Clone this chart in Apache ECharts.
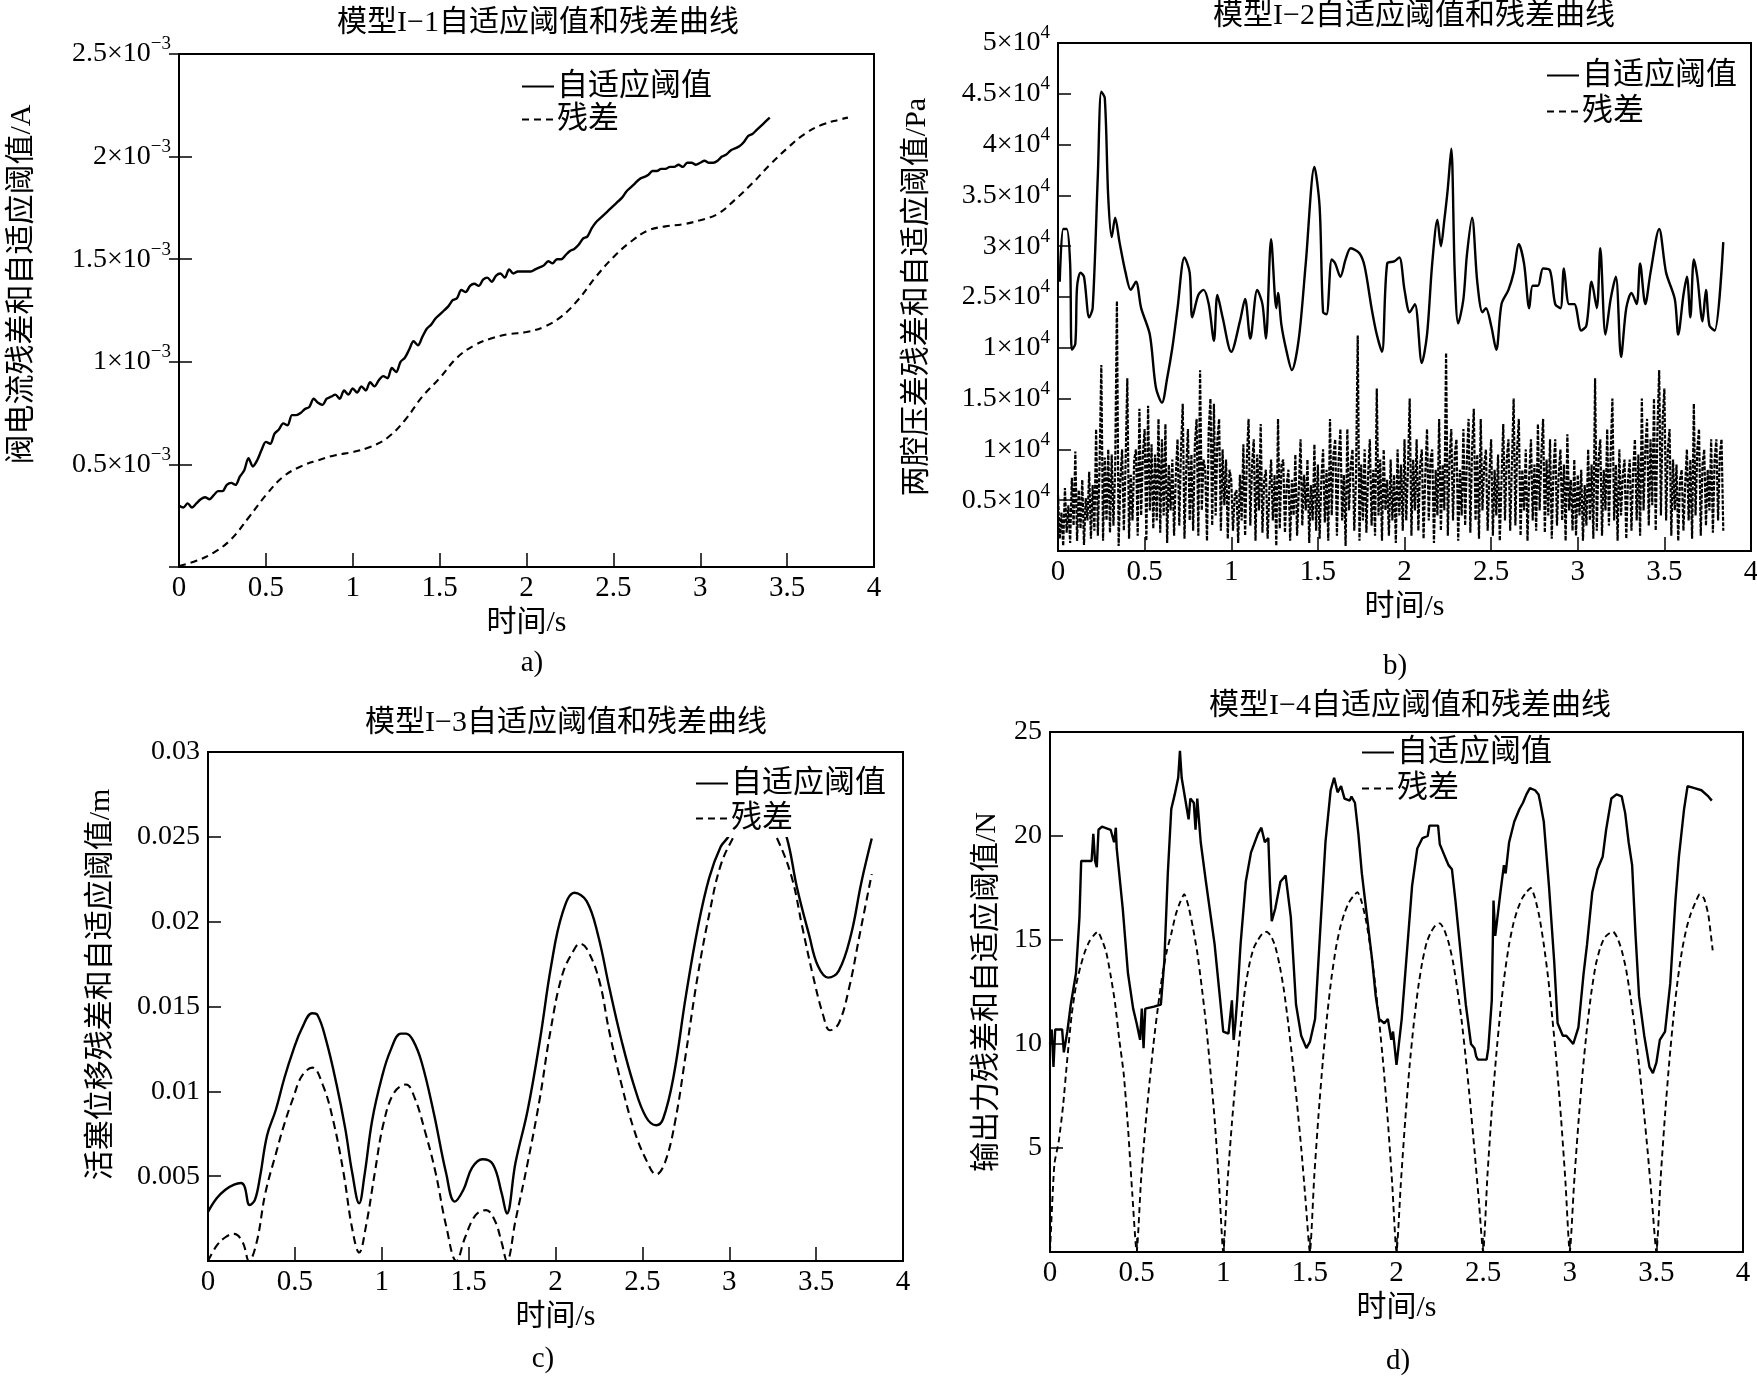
<!DOCTYPE html>
<html><head><meta charset="utf-8">
<script src="https://cdn.jsdelivr.net/npm/echarts@6/dist/echarts.min.js"></script>
<style>html,body{margin:0;padding:0;background:#fff}#c{width:1757px;height:1376px}</style>
</head><body><div id="c"></div>
<script>
// ---------- shared tick labels ----------
const xTickLabels = ['0','0.5','1','1.5','2','2.5','3','3.5','4'];
const aYMantissa = ['', '0.5', '1', '1.5', '2', '2.5'];
const aYExp = '−3';
const bYMantissa = ['', '0.5', '1', '1.5', '1', '2.5', '3', '3.5', '4', '4.5', '5'];
const bYExp = '4';
const cYTickLabels = ['', '0.005', '0.01', '0.015', '0.02', '0.025', '0.03'];
const dYTickLabels = ['', '5', '10', '15', '20', '25'];

const titles = ['模型I−1自适应阈值和残差曲线','模型I−2自适应阈值和残差曲线','模型I−3自适应阈值和残差曲线','模型I−4自适应阈值和残差曲线'];
const yNames = ['阀电流残差和自适应阈值/A','两腔压差残差和自适应阈值/Pa','活塞位移残差和自适应阈值/m','输出力残差和自适应阈值/N'];
const xName = '时间/s';
const captions = ['a)','b)','c)','d)'];
const seriesNames = ['自适应阈值','残差'];

// ---------- panel a (values in 1e-3 A) ----------
const aThresholdStep = 0.025;
const aThreshold = [0.30,0.29,0.31,0.29,0.31,0.33,0.34,0.33,0.35,0.37,0.37,0.40,0.41,0.40,0.44,0.47,0.53,0.49,0.52,0.57,
0.61,0.60,0.65,0.67,0.70,0.69,0.74,0.74,0.75,0.77,0.78,0.82,0.80,0.79,0.82,0.83,0.84,0.82,0.86,0.84,
0.87,0.85,0.88,0.86,0.90,0.88,0.91,0.93,0.92,0.97,0.95,1.00,1.02,1.06,1.10,1.08,1.12,1.16,1.18,1.21,
1.23,1.25,1.27,1.30,1.31,1.35,1.34,1.37,1.38,1.37,1.40,1.41,1.39,1.42,1.43,1.41,1.45,1.43,1.44,1.44,
1.44,1.44,1.45,1.46,1.47,1.49,1.48,1.50,1.50,1.52,1.54,1.55,1.57,1.60,1.61,1.65,1.68,1.70,1.72,1.74,
1.76,1.78,1.80,1.83,1.85,1.87,1.89,1.90,1.91,1.93,1.93,1.94,1.94,1.95,1.95,1.96,1.95,1.97,1.97,1.96,
1.97,1.98,1.97,1.97,1.98,2.00,2.01,2.03,2.04,2.05,2.07,2.10,2.11,2.13,2.15,2.17,2.19];
const aResidual = [[0,0.005],[0.1,0.03],[0.2,0.07],[0.3,0.135],[0.4,0.24],[0.5,0.35],[0.6,0.44],[0.7,0.49],[0.8,0.52],[0.9,0.545],
[1.0,0.56],[1.1,0.585],[1.2,0.63],[1.3,0.715],[1.4,0.83],[1.5,0.92],[1.6,1.02],[1.7,1.08],[1.8,1.115],[1.9,1.135],
[2.0,1.145],[2.1,1.17],[2.2,1.22],[2.3,1.305],[2.4,1.415],[2.5,1.51],[2.6,1.585],[2.7,1.64],[2.8,1.66],[2.9,1.67],
[3.0,1.69],[3.1,1.72],[3.2,1.79],[3.3,1.87],[3.4,1.96],[3.5,2.04],[3.6,2.11],[3.7,2.155],[3.8,2.18],[3.85,2.19]];

// ---------- panel b (values in 1e4 Pa) ----------
const bThreshold = [[0.01,2.65],[0.03,3.17],[0.05,3.17],[0.07,2.83],[0.08,1.98],[0.1,2.04],[0.11,2.6],[0.13,2.74],[0.15,2.7],[0.18,2.3],
[0.2,2.39],[0.23,3.7],[0.25,4.52],[0.27,4.46],[0.29,3.48],[0.31,3.09],[0.33,3.28],[0.355,3.04],[0.39,2.74],[0.42,2.57],
[0.45,2.65],[0.48,2.39],[0.53,2.13],[0.565,1.61],[0.6,1.46],[0.63,1.70],[0.66,2.0],[0.69,2.39],[0.73,2.89],[0.76,2.74],
[0.775,2.3],[0.81,2.52],[0.84,2.57],[0.87,2.43],[0.9,2.07],[0.92,2.52],[0.95,2.3],[1.0,1.96],[1.05,2.26],[1.08,2.48],
[1.11,2.09],[1.15,2.57],[1.18,2.43],[1.2,2.09],[1.23,3.07],[1.26,2.39],[1.27,2.54],[1.29,2.22],[1.32,1.96],[1.35,1.78],
[1.39,2.09],[1.43,2.83],[1.48,3.78],[1.51,3.39],[1.53,2.35],[1.55,2.33],[1.58,2.87],[1.6,2.83],[1.63,2.7],[1.66,2.87],
[1.69,2.98],[1.74,2.93],[1.77,2.8],[1.81,2.39],[1.84,2.13],[1.87,1.96],[1.9,2.83],[1.94,2.85],[1.97,2.89],[2.0,2.57],
[2.03,2.35],[2.06,2.43],[2.1,1.85],[2.13,2.13],[2.16,2.83],[2.19,3.26],[2.21,3.0],[2.23,3.26],[2.25,3.57],[2.27,3.96],
[2.29,2.74],[2.31,2.24],[2.34,2.48],[2.36,2.91],[2.39,3.28],[2.42,2.65],[2.45,2.35],[2.47,2.39],[2.5,2.22],[2.53,1.98],
[2.56,2.43],[2.6,2.57],[2.63,2.74],[2.66,3.02],[2.69,2.83],[2.72,2.39],[2.74,2.61],[2.77,2.61],[2.8,2.78],[2.84,2.76],
[2.87,2.43],[2.9,2.39],[2.92,2.78],[2.95,2.43],[2.98,2.43],[3.02,2.17],[3.05,2.22],[3.08,2.65],[3.11,2.39],[3.13,2.98],
[3.16,2.13],[3.19,2.48],[3.22,2.7],[3.25,1.91],[3.28,2.39],[3.31,2.54],[3.34,2.43],[3.36,2.83],[3.39,2.43],[3.42,2.74],
[3.47,3.17],[3.51,2.74],[3.56,2.48],[3.58,2.13],[3.61,2.52],[3.63,2.7],[3.65,2.3],[3.67,2.87],[3.69,2.7],[3.72,2.26],
[3.74,2.57],[3.76,2.22],[3.79,2.17],[3.84,3.04]];
const bResidualStep = 0.01;
const bResidual = [
0.55,0.12,0.38,0.05,0.62,0.18,0.45,0.08,0.72,0.25,
0.98,0.10,0.60,0.22,0.70,0.06,0.52,0.30,0.78,0.12,
0.65,0.20,1.20,0.15,0.85,1.83,0.10,0.92,0.30,1.00,
0.18,0.95,0.25,0.80,2.46,0.05,0.70,1.00,0.20,0.85,
1.70,0.12,0.75,0.30,0.90,1.00,0.15,1.40,0.35,0.95,
1.20,0.10,1.43,0.40,1.05,0.22,0.95,0.30,1.30,0.18,
1.10,0.35,1.25,0.08,0.85,0.40,0.90,0.15,0.75,1.10,
0.25,1.00,1.45,0.12,0.80,1.20,0.30,0.95,0.20,1.05,
1.30,0.15,1.78,0.40,0.90,0.80,0.10,1.20,1.50,0.25,
1.45,0.35,1.10,1.30,0.20,1.00,0.45,0.90,0.12,0.80,
0.70,0.20,0.55,0.60,0.08,0.75,0.30,1.05,0.15,0.90,
1.30,0.25,0.85,1.10,0.10,0.95,0.40,1.25,0.18,0.70,
0.80,0.12,0.60,0.90,0.30,0.75,0.05,1.30,0.22,0.85,
0.90,0.18,0.65,0.80,0.10,0.70,0.35,0.95,0.15,0.60,
1.10,0.25,0.75,0.40,0.90,0.08,0.65,0.30,1.05,0.20,
0.85,0.12,0.70,1.00,0.28,0.80,0.10,1.30,0.35,0.95,
1.10,0.15,0.90,1.20,0.30,0.75,0.05,1.20,0.40,0.85,
1.00,0.20,0.70,2.12,0.10,0.85,0.30,1.00,0.18,0.75,
1.10,0.25,0.80,0.15,1.60,0.35,0.90,0.10,1.00,0.40,
0.70,0.15,0.90,0.30,0.75,0.08,1.00,0.35,0.85,0.20,
1.10,0.30,0.80,1.50,0.15,0.90,0.40,1.10,0.20,0.85,
1.00,0.12,0.75,1.20,0.30,0.90,1.00,0.08,0.80,0.35,
1.30,0.20,0.85,0.40,1.95,0.15,0.90,1.20,0.30,0.95,
1.10,0.10,0.80,0.35,1.20,0.25,0.90,1.30,0.18,1.00,
1.40,0.30,0.95,0.12,1.30,0.40,0.85,1.00,0.20,0.75,
1.10,0.15,0.80,0.35,0.95,0.10,0.70,1.25,0.30,0.90,
1.10,0.20,0.85,1.50,0.25,1.00,1.30,0.15,0.80,0.40,
1.00,0.10,0.75,1.10,0.30,0.85,0.20,1.25,0.40,0.95,
1.30,0.18,0.90,0.35,1.10,0.12,0.80,1.10,0.25,0.75,
1.00,0.30,0.85,0.10,1.15,0.40,0.70,0.20,0.90,0.15,
0.75,0.35,0.80,0.10,0.65,0.25,1.00,0.30,0.85,0.12,
1.70,0.20,0.90,1.10,0.15,0.80,0.40,1.20,0.25,0.95,
1.50,0.30,0.85,0.10,1.00,0.35,0.75,0.90,0.12,0.70,
0.90,0.20,0.80,1.10,0.30,0.95,0.15,1.50,0.40,1.00,
1.30,0.25,1.10,0.45,1.50,0.20,1.20,1.78,0.35,1.30,
1.60,0.30,1.00,1.20,0.15,0.90,0.40,0.85,0.10,0.70,
0.80,0.20,0.65,1.00,0.30,0.90,0.12,1.45,0.35,1.00,
1.20,0.15,0.85,1.00,0.25,0.80,0.40,1.10,0.18,0.90,
1.10,0.30,0.95,1.10,0.20];

// ---------- panel c (values in m) ----------
const cThreshold = [[0,0.0029],[0.05,0.0037],[0.1,0.0042],[0.15,0.0045],[0.19,0.0046],[0.21,0.0044],[0.24,0.0033],[0.27,0.0036],[0.3,0.0050],[0.34,0.0074],
[0.39,0.0089],[0.44,0.0108],[0.49,0.0124],[0.54,0.0137],[0.6,0.0146],[0.63,0.0145],[0.68,0.0130],[0.74,0.0104],[0.79,0.0078],[0.83,0.0052],
[0.87,0.0034],[0.9,0.0050],[0.945,0.0083],[1.0,0.0108],[1.05,0.0124],[1.11,0.0134],[1.14,0.0134],[1.18,0.0130],[1.23,0.0117],[1.3,0.0087],
[1.37,0.0052],[1.42,0.0035],[1.47,0.0042],[1.52,0.0055],[1.58,0.0060],[1.64,0.0057],[1.69,0.0040],[1.72,0.0028],[1.77,0.0058],[1.84,0.0089],
[1.91,0.0130],[1.975,0.0174],[2.04,0.0205],[2.11,0.0217],[2.18,0.0212],[2.245,0.0192],[2.31,0.0161],[2.38,0.0130],[2.45,0.0104],[2.52,0.0085],
[2.58,0.0080],[2.62,0.0084],[2.68,0.0109],[2.75,0.0156],[2.82,0.0197],[2.885,0.0226],[2.95,0.0244],[3.0,0.0251],[3.08,0.0272],[3.16,0.0280],
[3.25,0.0270],[3.33,0.0250],[3.39,0.0220],[3.46,0.0192],[3.51,0.0174],[3.57,0.0167],[3.63,0.0171],[3.70,0.0192],[3.76,0.0223],[3.82,0.0249]];
const cResidual = [[0,0.0000],[0.05,0.0009],[0.1,0.0014],[0.15,0.0016],[0.2,0.0011],[0.236,0.0000],[0.28,0.0011],[0.33,0.0040],[0.39,0.0063],[0.44,0.0081],
[0.49,0.0096],[0.54,0.0109],[0.6,0.0114],[0.66,0.0104],[0.72,0.0083],[0.78,0.0052],[0.83,0.0019],[0.87,0.0005],[0.91,0.0021],[0.96,0.0052],
[1.01,0.0081],[1.07,0.0099],[1.14,0.0104],[1.19,0.0096],[1.25,0.0076],[1.31,0.0052],[1.37,0.0021],[1.43,0.0000],[1.48,0.0014],[1.54,0.0027],
[1.6,0.0030],[1.65,0.0024],[1.69,0.0011],[1.72,0.0000],[1.77,0.0024],[1.84,0.0058],[1.91,0.0096],[1.97,0.0135],[2.04,0.0169],[2.11,0.0184],
[2.14,0.0187],[2.18,0.0184],[2.25,0.0166],[2.31,0.0135],[2.38,0.0104],[2.45,0.0078],[2.52,0.0060],[2.58,0.0051],[2.63,0.0058],[2.69,0.0083],
[2.75,0.0122],[2.82,0.0169],[2.89,0.0207],[2.95,0.0233],[3.02,0.0249],[3.1,0.0262],[3.16,0.0264],[3.22,0.0258],[3.28,0.0248],[3.36,0.0226],
[3.42,0.0197],[3.48,0.0169],[3.54,0.0145],[3.58,0.0136],[3.63,0.0140],[3.69,0.0161],[3.75,0.0192],[3.82,0.0228]];

// ---------- panel d (values in N) ----------
const dThreshold = [[0,10.0],[0.01,10.7],[0.02,8.9],[0.03,10.7],[0.07,10.7],[0.08,9.6],[0.1,10.6],[0.12,11.9],[0.15,13.4],[0.17,16.1],
[0.18,18.8],[0.24,18.8],[0.25,20.1],[0.26,18.8],[0.27,18.5],[0.28,20.3],[0.3,20.45],[0.35,20.3],[0.37,19.7],[0.38,20.4],
[0.385,19.4],[0.42,16.5],[0.45,13.4],[0.48,11.7],[0.5,11.0],[0.52,10.2],[0.53,11.7],[0.54,9.8],[0.55,11.7],[0.6,11.8],
[0.64,11.9],[0.66,14.0],[0.68,18.2],[0.7,21.3],[0.72,22.0],[0.74,22.8],[0.75,24.1],[0.76,22.8],[0.78,21.8],[0.8,20.8],
[0.81,21.8],[0.83,21.6],[0.84,20.3],[0.85,21.8],[0.87,19.7],[0.9,17.8],[0.95,14.8],[0.98,12.3],[1.0,10.6],[1.03,10.5],
[1.05,12.1],[1.06,10.2],[1.07,11.0],[1.08,12.1],[1.1,14.8],[1.13,17.8],[1.16,19.2],[1.2,20.1],[1.22,20.4],[1.24,19.7],
[1.26,19.9],[1.27,17.6],[1.28,15.9],[1.3,16.5],[1.33,17.8],[1.36,18.1],[1.39,16.1],[1.42,11.9],[1.45,10.4],[1.48,9.8],
[1.5,10.1],[1.53,11.2],[1.56,15.5],[1.59,19.7],[1.62,22.2],[1.64,22.8],[1.66,22.1],[1.68,22.4],[1.7,21.8],[1.73,21.7],
[1.74,21.9],[1.76,21.6],[1.78,20.1],[1.8,18.2],[1.83,16.1],[1.86,14.0],[1.88,12.3],[1.9,11.2],[1.93,11.0],[1.95,11.2],
[1.97,10.2],[1.98,10.6],[2.0,9.0],[2.03,11.2],[2.06,14.4],[2.09,17.6],[2.12,19.4],[2.15,19.9],[2.18,20.0],[2.19,20.5],
[2.24,20.5],[2.25,19.6],[2.27,19.2],[2.29,18.8],[2.3,18.6],[2.32,18.4],[2.34,16.9],[2.37,14.4],[2.4,11.9],[2.43,10.0],
[2.45,9.8],[2.46,9.4],[2.47,9.25],[2.52,9.25],[2.53,9.8],[2.54,9.8],[2.55,12.1],[2.56,16.9],[2.57,15.2],[2.6,17.3],
[2.62,18.6],[2.63,18.2],[2.65,19.7],[2.68,20.7],[2.71,21.3],[2.73,21.6],[2.75,22.0],[2.77,22.3],[2.8,22.2],[2.82,22.0],
[2.83,21.6],[2.85,20.7],[2.88,17.6],[2.91,14.0],[2.93,11.0],[2.96,10.4],[2.98,10.4],[3.0,10.2],[3.02,10.0],[3.05,10.8],
[3.08,13.4],[3.1,14.8],[3.13,17.3],[3.16,18.4],[3.19,19.0],[3.21,20.3],[3.24,21.8],[3.27,22.0],[3.3,21.9],[3.32,21.1],
[3.34,19.7],[3.36,18.6],[3.38,15.2],[3.4,12.3],[3.43,10.4],[3.46,8.9],[3.48,8.6],[3.5,9.1],[3.52,10.2],[3.55,10.6],
[3.58,12.9],[3.61,16.9],[3.63,19.0],[3.66,21.3],[3.68,22.4],[3.72,22.3],[3.76,22.2],[3.8,21.9],[3.82,21.7]];
const dResidualStep = 0.025;
const dResidual = [
0,4.2,5.3,7.0,9.3,11.4,12.8,13.7,14.4,14.9,15.2,15.4,15.0,14.4,13.3,12.0,10.2,8.6,6.0,2.8,
0,3.4,6.0,8.2,10.2,11.9,13.4,14.5,15.3,16.2,16.8,17.2,16.6,15.6,14.4,12.8,11.0,8.8,6.4,3.4,
0,3.4,6.2,8.6,10.8,12.6,13.8,14.6,15.0,15.3,15.4,15.2,14.7,13.8,12.6,11.0,9.2,7.2,5.0,2.5,
0,3.6,6.6,9.2,11.4,13.2,14.6,15.6,16.3,16.8,17.1,17.3,16.8,15.9,14.6,13.0,11.1,8.9,6.3,3.3,
0,3.3,6.3,8.9,11.0,12.7,14.0,14.9,15.4,15.7,15.8,15.5,14.9,14.0,12.7,11.2,9.3,7.2,4.9,2.5,
0,3.7,6.8,9.4,11.6,13.4,14.8,15.8,16.5,17.0,17.3,17.5,17.0,16.1,14.8,13.2,11.2,9.0,6.4,3.4,
0,3.3,6.2,8.7,10.8,12.5,13.8,14.6,15.1,15.3,15.4,15.1,14.5,13.6,12.3,10.8,9.0,7.0,4.8,2.4,
0,3.6,6.6,9.2,11.4,13.2,14.6,15.6,16.3,16.8,17.2,17.0,16.2,14.5];

// ---------- build ----------
const SERIF = '"Liberation Serif", "Times New Roman", serif';
const MIX = '"Liberation Serif", "Noto Sans CJK SC", serif';
const stepped = (arr, step) => arr.map((v, i) => [+(i * step).toFixed(4), v]);

const grids = [
  {left:179, top:54, width:695, height:513},
  {left:1058, top:43, width:693, height:508},
  {left:208, top:752, width:695, height:509},
  {left:1050, top:732, width:693, height:520}
].map(g => Object.assign(g, {show:true, borderColor:'#000', borderWidth:2, backgroundColor:'transparent', containLabel:false, outerBoundsMode:'none'}));

const xAxes = [0,1,2,3].map(i => ({
  type:'value', gridIndex:i, min:0, max:4, interval:0.5,
  name:xName, nameLocation:'middle', nameGap:41,
  nameTextStyle:{fontSize:30, fontFamily:MIX, color:'#000'},
  axisLine:{show:true, onZero:false, lineStyle:{color:'#000', width:2}},
  axisTick:{show:true, inside:true, length:14, lineStyle:{color:'#000', width:1.5}},
  axisLabel:{show:true, margin:7, fontSize:29, fontFamily:SERIF, color:'#000', showMinLabel:true, showMaxLabel:true,
    formatter: v => xTickLabels[Math.round(v / 0.5)]},
  splitLine:{show:false}
}));

const supRich = {
  m:{fontSize:28, fontFamily:SERIF, color:'#000', lineHeight:38},
  e:{fontSize:19, fontFamily:SERIF, color:'#000', lineHeight:19, verticalAlign:'top'}
};
function yAxisBase(i, max, interval, name, nameGap, shift) {
  return {
    type:'value', gridIndex:i, min:0, max:max, interval:interval,
    name:name, nameLocation:'middle', nameGap:nameGap,
    nameTextStyle:{fontSize:30, fontFamily:MIX, color:'#000', padding: shift > 0 ? [0,0,0,shift*2] : [0,0,0,0]},
    axisLine:{show:true, onZero:false, lineStyle:{color:'#000', width:2}},
    axisTick:{show:true, inside:true, length:13, lineStyle:{color:'#000', width:1.5}},
    axisLabel:{show:true, margin:8, fontSize:28, fontFamily:SERIF, color:'#000', showMinLabel:true, showMaxLabel:true},
    splitLine:{show:false}
  };
}
const yA = yAxisBase(0, 2.5, 0.5, yNames[0], 142, 26);
yA.axisLabel.formatter = v => { const m = aYMantissa[Math.round(v / 0.5)]; return m ? '{m|' + m + '×10}{e|' + aYExp + '}' : ''; };
yA.axisLabel.rich = supRich;
const yB = yAxisBase(1, 5, 0.5, yNames[1], 126, 0);
yB.axisLabel.formatter = v => { const m = bYMantissa[Math.round(v / 0.5)]; return m ? '{m|' + m + '×10}{e|' + bYExp + '}' : ''; };
yB.axisLabel.rich = supRich;
const yC = yAxisBase(2, 0.03, 0.005, yNames[2], 92, 22);
yC.axisLabel.formatter = v => cYTickLabels[Math.round(v / 0.005)];
const yD = yAxisBase(3, 25, 5, yNames[3], 48, 0);
yD.axisLabel.formatter = v => dYTickLabels[Math.round(v / 5)];
const yARight = {type:'value', gridIndex:0, position:'right', min:0, max:2.5, interval:0.5,
  axisLine:{show:true, lineStyle:{color:'#000', width:2}},
  axisTick:{show:true, inside:true, length:10, lineStyle:{color:'#000', width:1.5}},
  axisLabel:{show:false}, splitLine:{show:false}};

function solid(i, data, smooth) {
  return {type:'line', name:seriesNames[0], xAxisIndex:i, yAxisIndex:i, data:data, symbol:'none', smooth:smooth,
    lineStyle:{color:'#000', width:2.4, type:'solid'}, itemStyle:{color:'#000'}, z:3, animation:false};
}
function dashed(i, data, smooth, width, dash) {
  return {type:'line', name:seriesNames[1], xAxisIndex:i, yAxisIndex:i, data:data, symbol:'none', smooth:smooth,
    lineStyle:{color:'#000', width:width, type:dash}, itemStyle:{color:'#000'}, z:3, animation:false};
}

const legendBase = {orient:'vertical', data:seriesNames, itemWidth:32, itemHeight:12, selectedMode:false,
  itemStyle:{opacity:0, color:'rgba(0,0,0,0)', borderColor:'rgba(0,0,0,0)', borderWidth:0},
  textStyle:{fontSize:31, fontFamily:MIX, color:'#000', lineHeight:31, padding:[0,0,0,-2]}, padding:[3,6,3,6]};
const legends = [
  Object.assign({}, legendBase, {left:515, top:68, itemGap:2, backgroundColor:'transparent'}),
  Object.assign({}, legendBase, {left:1540, top:57, itemGap:5, backgroundColor:'transparent'}),
  Object.assign({}, legendBase, {left:689, top:765, itemGap:4, backgroundColor:'#fff'}),
  Object.assign({}, legendBase, {left:1355, top:734, itemGap:5, backgroundColor:'transparent'})
];

const titleCenters = [[538,25],[1414,18],[566,725],[1410,708]];
const captionCenters = [[532,663],[1395,666],[543,1359],[1398,1361]];

const option = {
  animation:false,
  backgroundColor:'#fff',
  title: titles.map((t, i) => ({text:t, left:titleCenters[i][0], top:titleCenters[i][1] - 17, textAlign:'center', padding:0,
    textStyle:{fontSize:30, fontWeight:'normal', fontFamily:MIX, color:'#000'}})),
  grid: grids,
  xAxis: xAxes,
  yAxis: [yA, yB, yC, yD, yARight],
  legend: legends,
  graphic: captions.map((c, i) => ({type:'text', x:captionCenters[i][0], y:captionCenters[i][1],
    style:{text:c, font:'29px "Liberation Serif"', fill:'#000', align:'center', verticalAlign:'middle', textAlign:'center', textVerticalAlign:'middle'}})),
  series: [
    solid(0, stepped(aThreshold, aThresholdStep), 0.3),
    dashed(0, aResidual, 0.4, 2.1, [7,5]),
    solid(1, bThreshold, 0.3),
    dashed(1, stepped(bResidual, bResidualStep), false, 2.2, [4,1.5]),
    solid(2, cThreshold, 0.4),
    dashed(2, cResidual, 0.4, 2.1, [8,5]),
    solid(3, dThreshold, false),
    dashed(3, stepped(dResidual, dResidualStep), 0.2, 1.9, [6,4])
  ]
};
const chart = echarts.init(document.getElementById('c'), null, {renderer:'canvas'});
chart.setOption(option);
</script>
</body></html>
